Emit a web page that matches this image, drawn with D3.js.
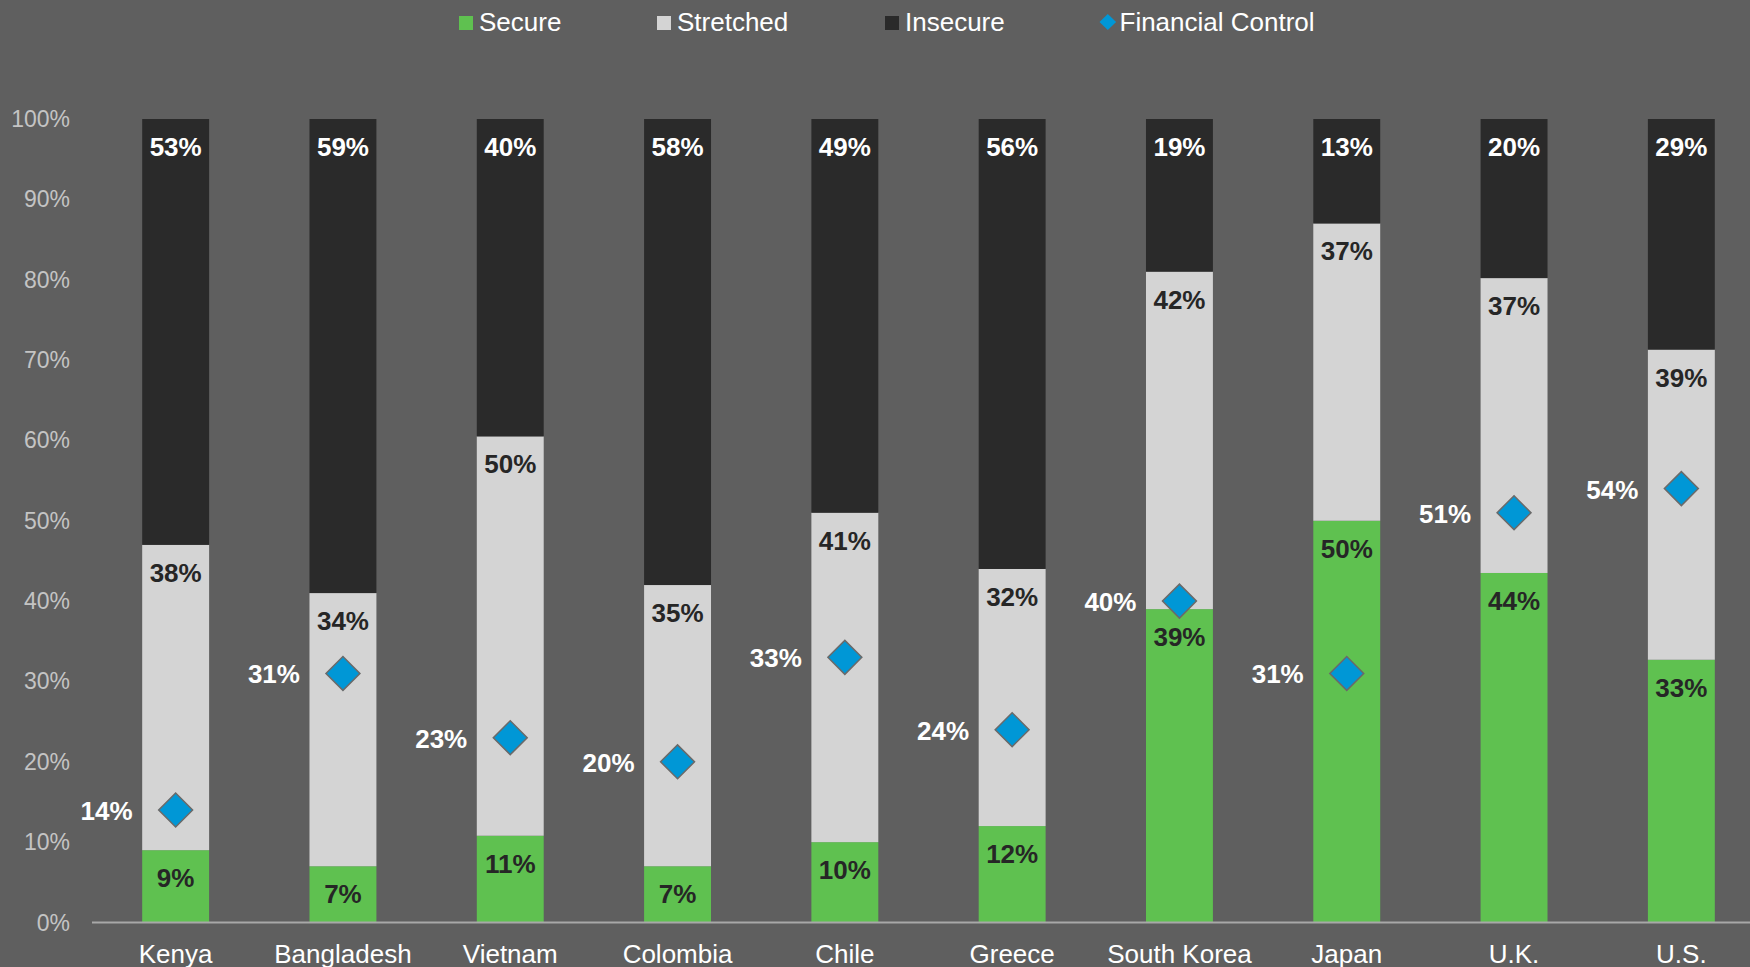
<!DOCTYPE html>
<html><head><meta charset="utf-8">
<script src="https://cdn.jsdelivr.net/npm/d3@7"></script>
<style>
html,body{margin:0;padding:0;background:#5f5f5f;overflow:hidden}
svg{display:block;font-family:"Liberation Sans",Arial,sans-serif}
</style></head>
<body><svg id="c" width="1750" height="967"></svg>
<script>
const countries = ["Kenya","Bangladesh","Vietnam","Colombia","Chile","Greece","South Korea","Japan","U.K.","U.S."];
const secure    = [9, 7, 10.8, 7, 10, 12, 39, 50, 43.5, 32.7];
const stretched = [38, 34, 49.7, 35, 41, 32, 42, 37, 36.7, 38.6];
const insecure  = [53, 59, 40, 58, 49, 56, 19, 13, 20, 29];
const financialControl = [14, 31, 23, 20, 33, 24, 40, 31, 51, 54];
const yTicks = [0,10,20,30,40,50,60,70,80,90,100];
const seriesNames = ["Secure","Stretched","Insecure","Financial Control"];

const colors = {Secure:"#5fc150", Stretched:"#d4d4d4", Insecure:"#2a2a2a", "Financial Control":"#0097d6"};
const labelColors = {Secure:"#262626", Stretched:"#262626", Insecure:"#ffffff"};

const svg = d3.select("#c");
const x = d3.scaleBand().domain(countries).range([92, 1765]).paddingInner(0.6).paddingOuter(0.3);
const y = d3.scaleLinear().domain([0,100]).range([922.5,119]).clamp(true);

// y axis labels
svg.append("g").selectAll("text").data(yTicks).join("text")
  .attr("x",70).attr("y",d=>y(d)).attr("text-anchor","end").attr("dominant-baseline","central")
  .attr("font-size",23).attr("fill","#c4c4c4").text(d=>d+"%");

// stacks
const rows = countries.map((c,i)=>({country:c, Secure:secure[i], Stretched:stretched[i], Insecure:insecure[i]}));
const stack = d3.stack().keys(["Secure","Stretched","Insecure"])(rows);

const g = svg.append("g");
stack.forEach(layer=>{
  const key = layer.key;
  g.append("g").selectAll("rect").data(layer).join("rect")
    .attr("x",d=>x(d.data.country)).attr("width",x.bandwidth())
    .attr("y",d=>y(d[1])).attr("height",d=>y(d[0])-y(d[1]))
    .attr("fill",colors[key]);
});
stack.forEach(layer=>{
  const key = layer.key;
  g.append("g").selectAll("text").data(layer).join("text")
    .attr("x",d=>x(d.data.country)+x.bandwidth()/2)
    .attr("y",d=>y(d[1])+28)
    .attr("text-anchor","middle").attr("dominant-baseline","central")
    .attr("font-size",26).attr("font-weight","bold").attr("fill",labelColors[key])
    .text(d=>Math.round(d.data[key])+"%");
});

// axis line
svg.append("line").attr("x1",92).attr("x2",1750).attr("y1",y(0)).attr("y2",y(0))
  .attr("stroke","#a8a8a8").attr("stroke-width",2);

// category labels
svg.append("g").selectAll("text").data(countries).join("text")
  .attr("x",d=>x(d)+x.bandwidth()/2).attr("y",963).attr("text-anchor","middle")
  .attr("font-size",26).attr("fill","#ffffff").text(d=>d);

// financial control diamonds
const diamond = d3.symbol().type(d3.symbolSquare).size(24*24);
const fc = svg.append("g");
fc.selectAll("path").data(financialControl).join("path")
  .attr("d",diamond)
  .attr("transform",(d,i)=>`translate(${x(countries[i])+x.bandwidth()/2},${y(d)}) rotate(45)`)
  .attr("fill",colors["Financial Control"]).attr("stroke","#6a6a6a").attr("stroke-width",1.5);
fc.selectAll("text").data(financialControl).join("text")
  .attr("x",(d,i)=>x(countries[i])+x.bandwidth()/2-43).attr("y",d=>y(d)+1)
  .attr("text-anchor","end").attr("dominant-baseline","central")
  .attr("font-size",26).attr("font-weight","bold").attr("fill","#ffffff").text(d=>d+"%");

// legend
const legendX = [459, 657, 885, 1099.5];
const lg = svg.append("g");
seriesNames.forEach((s,i)=>{
  const gx = legendX[i];
  if(s==="Financial Control"){
    lg.append("path").attr("d","M0,-8 L8.3,0 L0,8 L-8.3,0 Z")
      .attr("transform",`translate(${gx+8.3},22)`).attr("fill",colors[s]);
  } else {
    lg.append("rect").attr("x",gx).attr("y",16).attr("width",14).attr("height",14).attr("fill",colors[s]);
  }
  lg.append("text").attr("x",gx+20).attr("y",30.5).attr("font-size",26).attr("fill","#ffffff").text(s);
});
</script></body></html>
